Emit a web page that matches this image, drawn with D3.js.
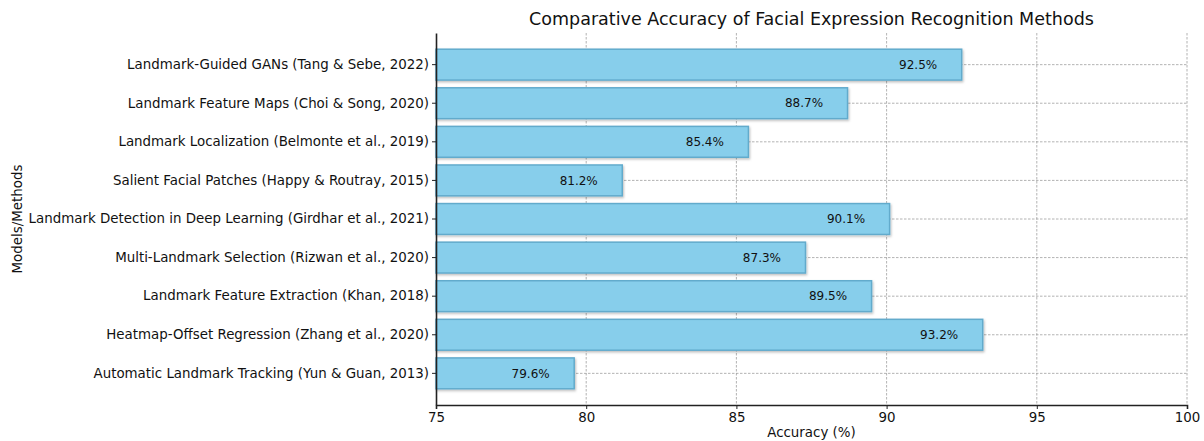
<!DOCTYPE html>
<html>
<head>
<meta charset="utf-8">
<script src="https://cdn.jsdelivr.net/npm/d3@7"></script>
<style>
  body { margin: 0; background: #fff; }
  text { font-family: "DejaVu Sans", sans-serif; }
</style>
</head>
<body>
<div id="chart"></div>
<script>
// Chart data
var methods = [
  "Landmark-Guided GANs (Tang & Sebe, 2022)",
  "Landmark Feature Maps (Choi & Song, 2020)",
  "Landmark Localization (Belmonte et al., 2019)",
  "Salient Facial Patches (Happy & Routray, 2015)",
  "Landmark Detection in Deep Learning (Girdhar et al., 2021)",
  "Multi-Landmark Selection (Rizwan et al., 2020)",
  "Landmark Feature Extraction (Khan, 2018)",
  "Heatmap-Offset Regression (Zhang et al., 2020)",
  "Automatic Landmark Tracking (Yun & Guan, 2013)"
];
var accuracy = [92.5, 88.7, 85.4, 81.2, 90.1, 87.3, 89.5, 93.2, 79.6];
var xTicks = [75, 80, 85, 90, 95, 100];

var width = 1204, height = 441,
    margin = {top: 33, right: 17, bottom: 36, left: 436};

var svg = d3.select("#chart").append("svg")
    .attr("width", width)
    .attr("height", height);

// soft shadow under the bars
var filter = svg.append("defs").append("filter").attr("id", "shadow")
    .attr("x", "-5%").attr("y", "-20%").attr("width", "110%").attr("height", "150%");
filter.append("feDropShadow").attr("dx", 1).attr("dy", 1.5).attr("stdDeviation", 1)
    .attr("flood-color", "#000").attr("flood-opacity", 0.25);

var x = d3.scaleLinear().domain([75, 100]).range([margin.left, width - margin.right]);
var y = d3.scaleBand().domain(methods)
    .range([margin.top, height - margin.bottom])
    .paddingInner(0.2).paddingOuter(0.42);

var data = methods.map(function(m, i){ return {name: m, value: accuracy[i]}; });

// grid
svg.append("g").selectAll("line.vgrid")
  .data(xTicks.slice(1))
  .enter().append("line")
    .attr("x1", function(d){ return x(d); })
    .attr("x2", function(d){ return x(d); })
    .attr("y1", margin.top).attr("y2", height - margin.bottom)
    .attr("stroke", "#a0a0a0").attr("stroke-width", 0.8)
    .attr("stroke-dasharray", "2.5,1.5");

svg.append("g").selectAll("line.hgrid")
  .data(methods)
  .enter().append("line")
    .attr("x1", margin.left).attr("x2", width - margin.right)
    .attr("y1", function(d){ return y(d) + y.bandwidth()/2; })
    .attr("y2", function(d){ return y(d) + y.bandwidth()/2; })
    .attr("stroke", "#a0a0a0").attr("stroke-width", 0.8)
    .attr("stroke-dasharray", "2.5,1.5");

// bars
svg.append("g").selectAll("rect")
  .data(data)
  .enter().append("rect")
    .attr("x", x(75))
    .attr("y", function(d){ return y(d.name); })
    .attr("width", function(d){ return x(d.value) - x(75); })
    .attr("height", y.bandwidth())
    .attr("fill", "#87ceeb")
    .attr("stroke", "#62abcc")
    .attr("stroke-width", 1.5)
    .style("filter", "url(#shadow)");

// value labels
svg.append("g").selectAll("text")
  .data(data)
  .enter().append("text")
    .attr("x", function(d){ return x(d.value - 1.45); })
    .attr("y", function(d){ return y(d.name) + y.bandwidth()/2; })
    .attr("dy", "0.35em")
    .attr("text-anchor", "middle")
    .style("font-size", "12px")
    .attr("fill", "#111")
    .text(function(d){ return d.value.toFixed(1) + "%"; });

// axes
var xAxis = svg.append("g")
    .attr("transform", "translate(0," + (height - margin.bottom) + ")")
    .call(d3.axisBottom(x).tickValues(xTicks).tickSize(4).tickPadding(3));
xAxis.select(".domain").attr("stroke", "#222").attr("stroke-width", 1.6);
xAxis.selectAll(".tick line").attr("stroke", "#222");
xAxis.selectAll("text").style("font-size", "13.4px").attr("fill", "#111");

var yAxis = svg.append("g")
    .attr("transform", "translate(" + margin.left + ",0)")
    .call(d3.axisLeft(y).tickSize(4).tickPadding(3).tickSizeOuter(0));
yAxis.select(".domain").attr("stroke", "#222").attr("stroke-width", 1.6);
yAxis.selectAll(".tick line").attr("stroke", "#222");
yAxis.selectAll("text").style("font-size", "13.4px").attr("fill", "#111");

// titles
svg.append("text")
    .attr("x", (margin.left + width - margin.right) / 2)
    .attr("y", 25)
    .attr("text-anchor", "middle")
    .style("font-size", "17.5px")
    .attr("fill", "#111")
    .text("Comparative Accuracy of Facial Expression Recognition Methods");

svg.append("text")
    .attr("x", (margin.left + width - margin.right) / 2)
    .attr("y", 437)
    .attr("text-anchor", "middle")
    .style("font-size", "13.4px")
    .attr("fill", "#111")
    .text("Accuracy (%)");

svg.append("text")
    .attr("transform", "translate(22," + ((margin.top + height - margin.bottom) / 2) + ") rotate(-90)")
    .attr("text-anchor", "middle")
    .style("font-size", "13.4px")
    .attr("fill", "#111")
    .text("Models/Methods");
</script>
</body>
</html>
